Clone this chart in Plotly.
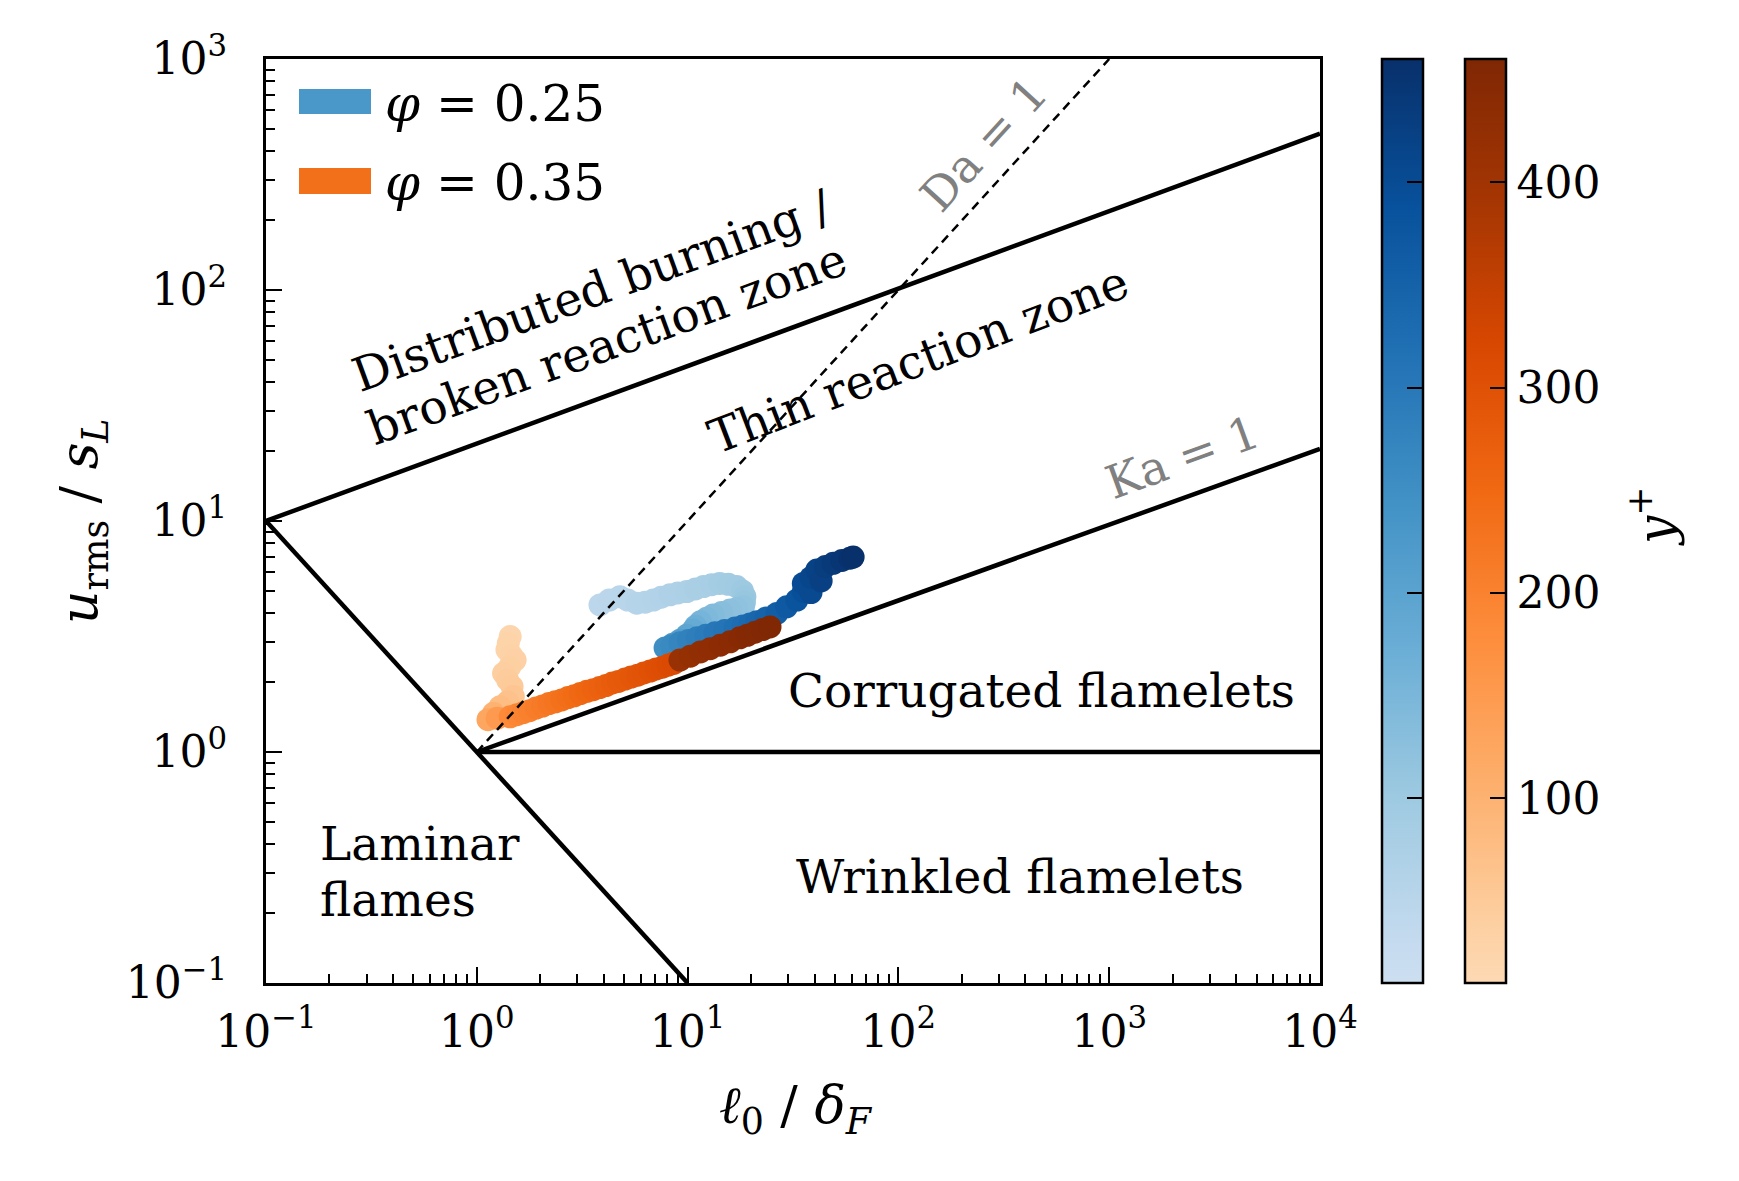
import plotly.graph_objects as go

# ---------------- data ----------------
# phi = 0.25 trajectory (x = l0/deltaF, y = urms/sL, colour = y+)
b_x = [3.84, 4.25, 4.77, 5.2, 5.74, 6.3, 6.88, 7.5, 8.25, 9.0, 9.91, 10.9, 11.9, 13.0, 14.2, 15.6, 17.1,
       18.2, 18.7, 18.6, 18.4, 17.1, 15.9, 14.5, 13.2, 12.3, 11.5, 10.9, 10.6, 9.9, 9.2, 8.5, 7.82,
       8.4, 9.2, 10.1, 11.1, 12.2, 13.5, 15.0, 16.8, 18.3, 19.8, 21.3, 23.5, 26.5, 29.5, 33.0, 35.4,
       35.4, 38.5, 38.5, 41.0, 43.0, 45.0, 49.1, 54.0, 58.9, 61.0]
b_y = [4.33, 4.55, 4.70, 4.55, 4.41, 4.45, 4.55, 4.68, 4.79, 4.88, 4.95, 5.08, 5.20, 5.30, 5.37, 5.32, 5.20,
       4.98, 4.70, 4.45, 4.25, 4.18, 4.12, 4.02, 3.92, 3.79, 3.66, 3.50, 3.37, 3.20, 3.05, 2.93, 2.82,
       2.88, 2.97, 3.04, 3.12, 3.20, 3.28, 3.36, 3.44, 3.51, 3.58, 3.66, 3.80, 3.98, 4.25, 4.55, 4.95,
       5.37, 4.90, 5.70, 6.13, 5.50, 6.35, 6.56, 6.75, 6.90, 6.98]
b_yp = [45, 47, 50, 53, 56, 59, 62, 65, 68, 71, 74, 77, 80, 84, 88, 92, 96,
        100, 105, 110, 115, 120, 125, 130, 137, 145, 155, 168, 180, 195, 212, 232, 252,
        262, 272, 280, 288, 295, 302, 310, 318, 325, 332, 340, 348, 358, 370, 382, 392,
        400, 405, 412, 420, 425, 432, 440, 448, 455, 460]

# phi = 0.35 trajectory
o_x = [1.44, 1.41, 1.39, 1.46, 1.52, 1.43, 1.34, 1.40, 1.47, 1.49, 1.40, 1.29, 1.20, 1.13, 1.25,
       1.44, 1.55, 1.66, 1.78, 1.91, 2.05, 2.2, 2.36, 2.53, 2.71, 2.9, 3.1, 3.33, 3.57, 3.83,
       4.1, 4.4, 4.7, 5.05, 5.4, 5.8, 6.2, 6.65, 7.1, 7.6, 8.1, 8.6,
       9.2, 10.3, 11.5, 12.8, 14.3, 15.9, 17.7, 19.2, 20.9, 22.7, 24.6]
o_y = [3.16, 2.95, 2.77, 2.62, 2.50, 2.33, 2.19, 2.05, 1.92, 1.74, 1.65, 1.57, 1.47, 1.38, 1.40,
       1.42, 1.45, 1.48, 1.51, 1.55, 1.58, 1.62, 1.65, 1.68, 1.72, 1.75, 1.79, 1.83, 1.86, 1.90,
       1.94, 1.99, 2.02, 2.07, 2.11, 2.15, 2.20, 2.24, 2.29, 2.33, 2.38, 2.42,
       2.50, 2.60, 2.71, 2.80, 2.90, 3.00, 3.12, 3.20, 3.30, 3.39, 3.48]
o_yp = [22, 25, 28, 31, 34, 38, 42, 46, 50, 60, 68, 78, 100, 125, 150,
        185, 192, 198, 204, 210, 216, 222, 228, 234, 240, 246, 251, 256, 261, 266,
        271, 276, 280, 284, 288, 292, 296, 300, 304, 308, 312, 316,
        415, 420, 425, 430, 435, 440, 445, 450, 452, 455, 458]

# regime boundaries
ka100_x, ka100_y = [0.1, 1e4], [10, 475]
re1_x, re1_y = [0.1, 10], [10, 0.1]
ka1_x, ka1_y = [1, 1e4], [1, 20.5]
u1_x, u1_y = [1, 1e4], [1, 1]
da1_x, da1_y = [1, 1000], [1, 1000]

x_tickvals = [0.1, 1, 10, 100, 1000, 10000]
x_ticktext = ["10<sup>−1</sup>", "10<sup>0</sup>", "10<sup>1</sup>", "10<sup>2</sup>", "10<sup>3</sup>", "10<sup>4</sup>"]
y_tickvals = [0.1, 1, 10, 100, 1000]
y_ticktext = ["10<sup>−1</sup>", "10<sup>0</sup>", "10<sup>1</sup>", "10<sup>2</sup>", "10<sup>3</sup>"]
cb_ticks = [100, 200, 300, 400]
cb_ticktext = ["100", "200", "300", "400"]
yp_min, yp_max = 10, 460

# ---------------- colour maps ----------------
blues = [(0.0, (247, 251, 255)), (0.125, (222, 235, 247)), (0.25, (198, 219, 239)), (0.375, (158, 202, 225)),
         (0.5, (107, 174, 214)), (0.625, (66, 146, 198)), (0.75, (33, 113, 181)), (0.875, (8, 81, 156)),
         (1.0, (8, 48, 107))]
oranges = [(0.0, (255, 245, 235)), (0.125, (254, 230, 206)), (0.25, (253, 208, 162)), (0.375, (253, 174, 107)),
           (0.5, (253, 141, 60)), (0.625, (241, 105, 19)), (0.75, (217, 72, 1)), (0.875, (166, 54, 3)),
           (1.0, (127, 39, 4))]


def interp(stops, t):
    for (s0, c0), (s1, c1) in zip(stops[:-1], stops[1:]):
        if s0 <= t <= s1:
            f = (t - s0) / (s1 - s0)
            return tuple(c0[i] + f * (c1[i] - c0[i]) for i in range(3))
    return stops[-1][1]


def truncated(stops, lo):
    out = [(0.0, interp(stops, lo))]
    for s, c in stops:
        if s > lo:
            out.append(((s - lo) / (1 - lo), c))
    return [[s, "rgb(%d,%d,%d)" % tuple(round(v) for v in c)] for s, c in out]


cs_blue = truncated(blues, 0.22)
cs_orange = truncated(oranges, 0.2)

FONT = "DejaVu Serif"
OFF = 8                      # page body margin
WIN_W, WIN_H = 1739, 1181
W, H = WIN_W - 2 * OFF, WIN_H - 2 * OFF
# plot area in screen pixels
L, R, T, B = 266, 1320, 59, 983
pw, ph = R - L, B - T


def px2paper_x(px):
    return (px - L) / pw


def px2paper_y(py):
    return (B - py) / ph


fig = go.Figure()

cb_common = dict(thickness=41, len=1.0, lenmode="fraction", y=0.5, yanchor="middle", ypad=0, xpad=0,
                 xanchor="left", outlinecolor="black", outlinewidth=2.5, ticks="inside", ticklen=17,
                 tickwidth=2, tickcolor="black", tickmode="array", tickvals=cb_ticks, ticktext=cb_ticktext,
                 tickfont=dict(family=FONT, size=44, color="black"))

fig.add_trace(go.Scatter(
    x=b_x, y=b_y, mode="markers", showlegend=False,
    marker=dict(size=23, color=b_yp, colorscale=cs_blue, cmin=yp_min, cmax=yp_max, line=dict(width=0),
                colorbar=dict(x=px2paper_x(1382), showticklabels=False, **cb_common))))
fig.add_trace(go.Scatter(
    x=o_x, y=o_y, mode="markers", showlegend=False,
    marker=dict(size=23, color=o_yp, colorscale=cs_orange, cmin=yp_min, cmax=yp_max, line=dict(width=0),
                colorbar=dict(x=px2paper_x(1465), showticklabels=True, **cb_common))))

for xs, ys in [(ka100_x, ka100_y), (re1_x, re1_y), (ka1_x, ka1_y), (u1_x, u1_y)]:
    fig.add_trace(go.Scatter(x=xs, y=ys, mode="lines", showlegend=False,
                             line=dict(color="black", width=4.5), hoverinfo="skip"))
fig.add_trace(go.Scatter(x=da1_x, y=da1_y, mode="lines", showlegend=False,
                         line=dict(color="black", width=2.5, dash="9px,6px"), hoverinfo="skip"))

minor_x = [m * 10 ** e for e in range(-1, 4) for m in range(2, 10)]
minor_y = [m * 10 ** e for e in range(-1, 3) for m in range(2, 10)]

axis_common = dict(type="log", showline=True, linecolor="black", linewidth=3, mirror=True,
                   ticks="inside", ticklen=16, tickwidth=2, tickcolor="black", showgrid=False,
                   zeroline=False, tickmode="array",
                   tickfont=dict(family=FONT, size=44, color="black"))

fig.update_xaxes(range=[-1, 4], tickvals=x_tickvals, ticktext=x_ticktext, ticklabelstandoff=8,
                 minor=dict(tickmode="array", tickvals=minor_x, ticks="inside", ticklen=9, tickwidth=1.5,
                            tickcolor="black", showgrid=False), **axis_common)
fig.update_yaxes(range=[-1, 3], tickvals=y_tickvals, ticktext=y_ticktext, ticklabelstandoff=27,
                 minor=dict(tickmode="array", tickvals=minor_y, ticks="inside", ticklen=9, tickwidth=1.5,
                            tickcolor="black", showgrid=False), **axis_common)

ann = []
txt = dict(family=FONT, size=47, color="black")
gray = dict(family=FONT, size=46, color="#808080")


def data_ann(x, y, text, font, angle=0, xanchor="center"):
    ann.append(dict(x=x, y=y, xref="x", yref="y", text=text, showarrow=False, textangle=angle,
                    xanchor=xanchor, yanchor="middle", font=font))


def paper_ann(px, py, text, size, angle=0, xanchor="center"):
    ann.append(dict(x=px2paper_x(px), y=px2paper_y(py), xref="paper", yref="paper", text=text,
                    showarrow=False, textangle=angle, xanchor=xanchor, yanchor="middle",
                    font=dict(family=FONT, size=size, color="black")))


data_ann(0.545, 2.0, "Distributed burning /", txt, -20)
data_ann(0.617, 1.77, "broken reaction zone", txt, -20)
data_ann(2.093, 1.697, "Thin reaction zone", txt, -21)
data_ann(3.35, 1.277, "Ka = 1", gray, -20)
data_ann(2.406, 2.632, "Da = 1", gray, -47.6)
data_ann(2.681, 0.268, "Corrugated flamelets", txt)
data_ann(2.577, -0.537, "Wrinkled flamelets", txt)
data_ann(-0.753, -0.394, "Laminar", txt, xanchor="left")
data_ann(-0.753, -0.64, "flames", txt, xanchor="left")

# legend labels
paper_ann(383, 104, "<i>φ</i> = 0.25", 50, xanchor="left")
paper_ann(383, 183, "<i>φ</i> = 0.35", 50, xanchor="left")

# axis titles
paper_ann(83, 521, "<i>u</i><sub>rms</sub> / <i>s</i><sub><i>L</i></sub>", 52, angle=-90)
paper_ann(796, 1109, "<i>ℓ</i><sub>0</sub> / <i>δ</i><sub><i>F</i></sub>", 52)
paper_ann(1652, 516, "<i>y</i><sup>+</sup>", 50, angle=-90)

shapes = [
    dict(type="rect", xref="paper", yref="paper", x0=px2paper_x(299), x1=px2paper_x(371),
         y0=px2paper_y(114), y1=px2paper_y(89), fillcolor="#4a98c9", line=dict(width=0)),
    dict(type="rect", xref="paper", yref="paper", x0=px2paper_x(299), x1=px2paper_x(371),
         y0=px2paper_y(194), y1=px2paper_y(168), fillcolor="#f3701b", line=dict(width=0)),
]

fig.update_layout(width=W, height=H,
                  margin=dict(l=L - OFF, r=(WIN_W - OFF) - R, t=T - OFF, b=(WIN_H - OFF) - B, pad=0,
                              autoexpand=False),
                  paper_bgcolor="white", plot_bgcolor="white", annotations=ann, shapes=shapes,
                  font=dict(family=FONT, color="black"))

fig.write_html("out.html")
